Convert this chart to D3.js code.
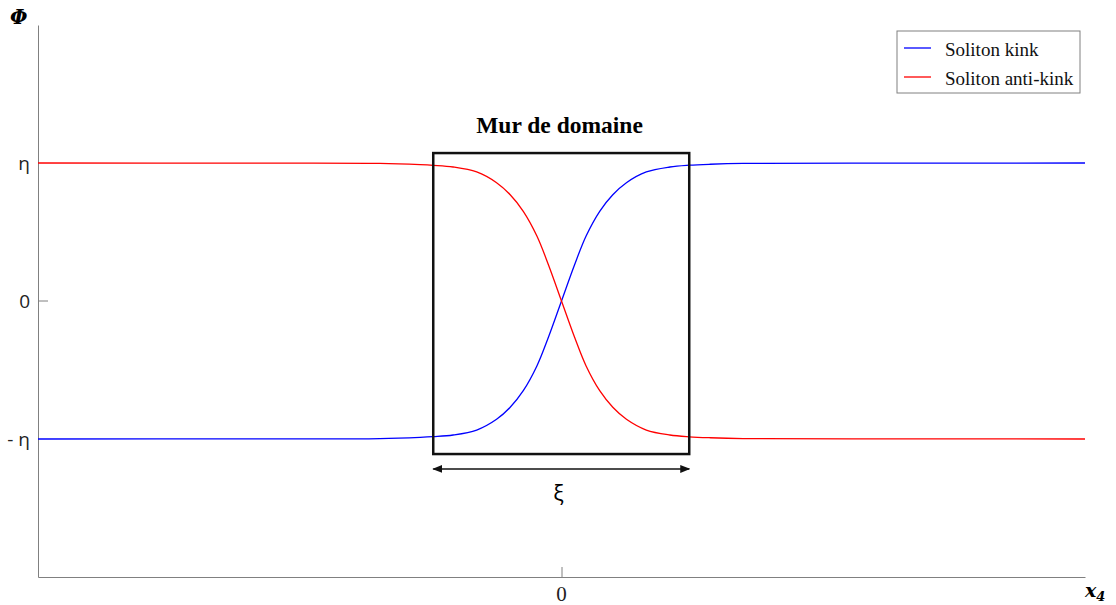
<!DOCTYPE html>
<html><head><meta charset="utf-8">
<script src="https://cdn.jsdelivr.net/npm/d3@7"></script>
<style>body{margin:0;background:#fff}svg{display:block}</style>
</head><body><svg id="c" width="1116" height="605"></svg>
<script>
// x position (in units of the half-axis), field value Φ in units of η
const xValues  = [-1.0, -0.6, -0.347, -0.270, -0.245, -0.207, -0.162, -0.124, -0.098, -0.073, -0.047, -0.025, 0.0, 0.025, 0.047, 0.073, 0.098, 0.124, 0.162, 0.207, 0.244, 0.284, 0.347, 0.6, 1.0];
const kink     = [-1.0, -0.999, -0.997, -0.988, -0.983, -0.971, -0.935, -0.857, -0.770, -0.650, -0.471, -0.263, 0.0, 0.263, 0.471, 0.650, 0.770, 0.857, 0.935, 0.971, 0.984, 0.991, 0.997, 0.999, 1.0];
const antiKink = [1.0, 0.999, 0.997, 0.988, 0.983, 0.971, 0.935, 0.857, 0.770, 0.650, 0.471, 0.263, 0.0, -0.263, -0.471, -0.650, -0.770, -0.857, -0.935, -0.971, -0.984, -0.991, -0.997, -0.999, -1.0];
const yTickValues = [1, 0, -1];
const yTickLabels = ["η", "0", "- η"];
const xTickValues = [0];
const xTickLabels = ["0"];
const seriesNames = ["Soliton kink", "Soliton anti-kink"];
const seriesColors = ["#0000ff", "#ff0000"];
const wallX = [-0.245, 0.244];
const wallY = [1.072, -1.109];
const arrowY = -1.217;
const wallTitle = "Mur de domaine";
const wallWidthLabel = "ξ";

const svg = d3.select("#c");
const x = d3.scaleLinear().domain([-1, 1]).range([38, 1085]);
const y = d3.scaleLinear().domain([-2, 2]).range([577, 25]);
const axisColor = "#808080";

// axes
const gy = svg.append("g").attr("transform", `translate(${x(-1)},0)`)
  .call(d3.axisRight(y).tickValues(yTickValues).tickFormat("").tickSize(0).tickSizeOuter(0));
gy.select(".domain").attr("stroke", axisColor);
svg.append("line").attr("x1", x(-1)).attr("x2", x(-1) + 10).attr("y1", y(0)).attr("y2", y(0)).attr("stroke", axisColor);
svg.selectAll("text.ylab").data(yTickValues).enter().append("text")
  .attr("class", "ylab").attr("x", 30).attr("y", d => y(d)).attr("dy", "0.35em")
  .attr("text-anchor", "end").attr("font-family", "Open Sans, sans-serif").attr("font-size", 19)
  .attr("fill", "#222").text((d, i) => yTickLabels[i]);

const gx = svg.append("g").attr("transform", `translate(0,${y(-2)})`)
  .call(d3.axisTop(x).tickValues(xTickValues).tickFormat("").tickSize(10).tickSizeOuter(0));
gx.select(".domain").attr("stroke", axisColor);
gx.selectAll(".tick line").attr("stroke", axisColor);
svg.selectAll("text.xlab").data(xTickValues).enter().append("text")
  .attr("class", "xlab").attr("x", d => x(d)).attr("y", 601)
  .attr("text-anchor", "middle").attr("font-family", "Liberation Serif, serif").attr("font-size", 21)
  .attr("fill", "#222").text((d, i) => xTickLabels[i]);

// axis titles
svg.append("text").attr("x", 10).attr("y", 24).attr("font-family", "DejaVu Serif, serif")
  .attr("font-weight", "bold").attr("font-style", "italic").attr("font-size", 20).text("Φ");
const xt = svg.append("text").attr("x", 1085).attr("y", 597).attr("font-family", "DejaVu Serif, serif")
  .attr("font-weight", "bold").attr("font-style", "italic").attr("font-size", 19);
xt.append("tspan").text("x");
xt.append("tspan").attr("dy", 4).attr("font-size", 13).text("4");

// curves
const line = d3.line().x((d, i) => x(xValues[i])).y(d => y(d)).curve(d3.curveCatmullRom.alpha(0.5));
[kink, antiKink].forEach((s, i) => {
  svg.append("path").datum(s).attr("d", line).attr("fill", "none")
    .attr("stroke", seriesColors[i]).attr("stroke-width", 1.3);
});

// domain wall box
svg.append("rect").attr("x", x(wallX[0])).attr("y", y(wallY[0]))
  .attr("width", x(wallX[1]) - x(wallX[0])).attr("height", y(wallY[1]) - y(wallY[0]))
  .attr("fill", "none").attr("stroke", "#111").attr("stroke-width", 2.5);
svg.append("text").attr("x", x(0) - 2).attr("y", 133).attr("text-anchor", "middle")
  .attr("font-family", "Liberation Serif, serif").attr("font-weight", "bold").attr("font-size", 23.5)
  .text(wallTitle);

// double arrow
const defs = svg.append("defs");
defs.append("marker").attr("id", "ah").attr("viewBox", "0 0 10 10").attr("refX", 9).attr("refY", 5)
  .attr("markerWidth", 10).attr("markerHeight", 10).attr("markerUnits", "userSpaceOnUse")
  .attr("orient", "auto-start-reverse")
  .append("path").attr("d", "M0,1 L10,5 L0,9 Z").attr("fill", "#111");
svg.append("line").attr("x1", x(wallX[0])).attr("x2", x(wallX[1])).attr("y1", y(arrowY)).attr("y2", y(arrowY))
  .attr("stroke", "#111").attr("stroke-width", 1.6)
  .attr("marker-start", "url(#ah)").attr("marker-end", "url(#ah)");
svg.append("text").attr("x", x(0) - 3).attr("y", 501).attr("text-anchor", "middle")
  .attr("font-family", "Open Sans, sans-serif").attr("font-size", 22).text(wallWidthLabel);

// legend
const lg = svg.append("g").attr("transform", "translate(897,31)");
lg.append("rect").attr("width", 183).attr("height", 62).attr("fill", "#fff").attr("stroke", axisColor);
seriesNames.forEach((n, i) => {
  const yy = 17 + i * 29;
  lg.append("line").attr("x1", 7).attr("x2", 34).attr("y1", yy).attr("y2", yy)
    .attr("stroke", seriesColors[i]).attr("stroke-width", 1.3);
  lg.append("text").attr("x", 48).attr("y", yy + 1).attr("dy", "0.35em")
    .attr("font-family", "Liberation Serif, serif").attr("font-size", 19).attr("fill", "#111").text(n);
});
</script></body></html>
